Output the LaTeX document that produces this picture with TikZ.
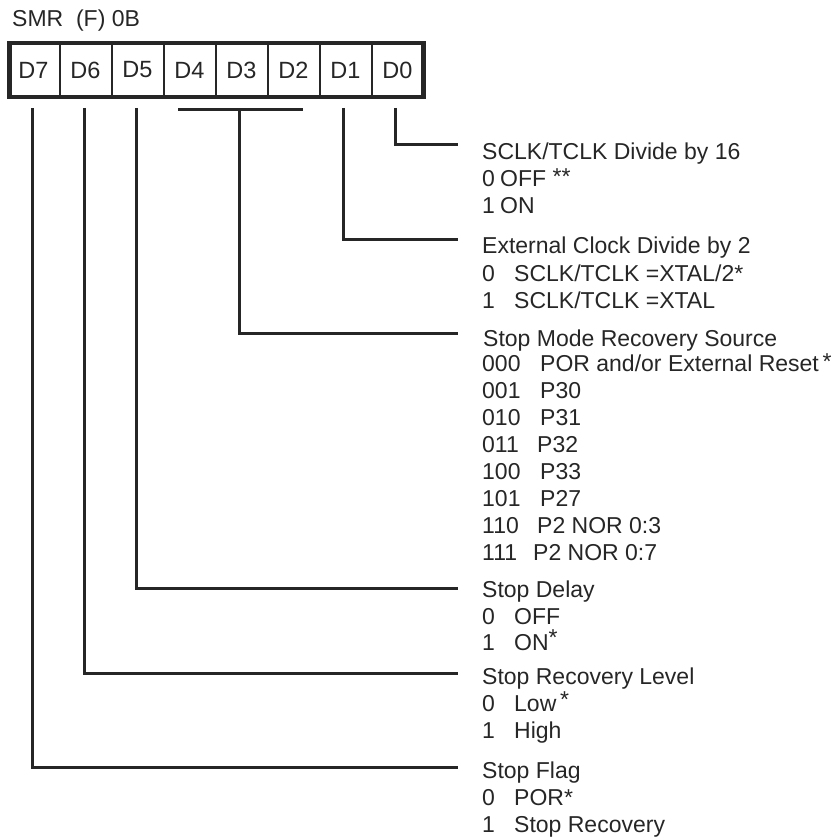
\documentclass[tikz,border=0pt]{standalone}
\usepackage{fontspec}
\setmainfont{Liberation Sans}
\begin{document}
\begin{tikzpicture}[x=1pt,y=-1pt,
  lbl/.style={anchor=base west,inner sep=0pt,font=\fontsize{23}{27}\selectfont,text=black!85},
  cell/.style={minimum width=52pt,minimum height=54pt,inner sep=0pt,font=\fontsize{23.5}{27}\selectfont,text=black!85},
  wire/.style={line width=3pt,draw=black!85}]
\useasboundingbox (0,0) rectangle (835,840);
% title
\node[lbl] (title) at (12,27) {SMR\ \ (F) 0B};
% register cells
\foreach \n/\x in {7/33.5,6/85.5,5/137.5,4/189.5,3/241.5,2/293.5,1/345.5,0/397.5}
  \node[cell] (d\n) at (\x,70) {D\n};
\foreach \x in {59.5,111.5,163.5,215.5,267.5,319.5,371.5}
  \draw[line width=2pt,draw=black!85] (\x,43) -- (\x,97);
\draw[line width=4.5pt,draw=black!85] (9.5,43) rectangle (423.5,97);
% coordinates under cells
\coordinate (c7) at (32,108);
\coordinate (c6) at (84,108);
\coordinate (c5) at (136,108);
\coordinate (c1) at (343,108);
\coordinate (c0) at (395,108);
\coordinate (bl) at (178,110);
\coordinate (br) at (303,110);
\coordinate (c3) at (239,110);
% line ends
\coordinate (e0) at (458,144);
\coordinate (e1) at (458,239);
\coordinate (e3) at (458,333);
\coordinate (e5) at (458,588);
\coordinate (e6) at (458,673);
\coordinate (e7) at (458,767);
% labels
\node[lbl] (t0) at (482,159) {SCLK/TCLK Divide by 16};
\node[lbl] (t0a) at (482,186) {0};
\node[lbl] (t0av) at (500,186) {OFF \raisebox{2pt}{**}};
\node[lbl] (t0b) at (482,213) {1};
\node[lbl] (t0bv) at (500,213) {ON};
\node[lbl] (t1) at (482,253) {External Clock Divide by 2};
\node[lbl] (t1a) at (482,281) {0};
\node[lbl] (t1av) at (514,281) {SCLK/TCLK =XTAL/2*};
\node[lbl] (t1b) at (482,308) {1};
\node[lbl] (t1bv) at (514,308) {SCLK/TCLK =XTAL};
\node[lbl] (t3) at (483,346) {Stop Mode Recovery Source};
\node[lbl] (s0) at (482,371) {000};
\node[lbl] (s0v) at (540,371) {POR and/or External Reset\,\raisebox{2pt}{*}};
\node[lbl] (s1) at (482,398) {001};
\node[lbl] (s1v) at (540,398) {P30};
\node[lbl] (s2) at (482,425) {010};
\node[lbl] (s2v) at (540,425) {P31};
\node[lbl] (s3) at (482,452) {011};
\node[lbl] (s3v) at (537,452) {P32};
\node[lbl] (s4) at (482,479) {100};
\node[lbl] (s4v) at (540,479) {P33};
\node[lbl] (s5) at (482,506) {101};
\node[lbl] (s5v) at (540,506) {P27};
\node[lbl] (s6) at (482,533) {110};
\node[lbl] (s6v) at (537,533) {P2 NOR 0:3};
\node[lbl] (s7) at (482,560) {111};
\node[lbl] (s7v) at (533,560) {P2 NOR 0:7};
\node[lbl] (t5) at (482,597) {Stop Delay};
\node[lbl] (t5a) at (482,624) {0};
\node[lbl] (t5av) at (514,624) {OFF};
\node[lbl] (t5b) at (482,650) {1};
\node[lbl] (t5bv) at (514,650) {ON\raisebox{5pt}{*}};
\node[lbl] (t6) at (482,684) {Stop Recovery Level};
\node[lbl] (t6a) at (482,711) {0};
\node[lbl] (t6av) at (514,711) {Low\,\raisebox{4pt}{*}};
\node[lbl] (t6b) at (482,738) {1};
\node[lbl] (t6bv) at (514,738) {High};
\node[lbl] (t7) at (482,778) {Stop Flag};
\node[lbl] (t7a) at (482,805) {0};
\node[lbl] (t7av) at (514,805) {POR*};
\node[lbl] (t7b) at (482,832) {1};
\node[lbl] (t7bv) at (514,832) {Stop Recovery};
% connectors
\draw[wire] (c0) |- (e0);
\draw[wire] (c1) |- (e1);
\draw[wire] (bl) -- (br);
\draw[wire] (c3) |- (e3);
\draw[wire] (c5) |- (e5);
\draw[wire] (c6) |- (e6);
\draw[wire] (c7) |- (e7);
\end{tikzpicture}
\end{document}
